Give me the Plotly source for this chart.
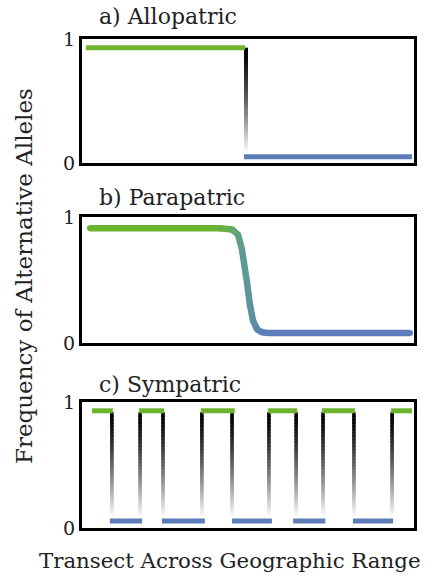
import numpy as np
import plotly.graph_objects as go
from plotly.colors import sample_colorscale

# Position along the transect, in percent of the range (0 = one end, 100 = the other)
# a) Allopatric: two fixed populations with an abrupt break
allo_green_x = [1.2, 49.1]
allo_blue_x = [48.8, 99.4]
allo_boundary = 49.4
allo_high = 0.93
allo_low = 0.05

# b) Parapatric: a steep but continuous cline
para_x = [2.4, 41.6, 45.2, 47.0, 48.2, 49.7, 50.6, 51.5, 52.7, 54.2, 56.0, 98.8]
para_y = [0.91, 0.91, 0.90, 0.86, 0.74, 0.48, 0.30, 0.18, 0.11, 0.085, 0.08, 0.08]

# c) Sympatric: interleaved patches of the two forms
sym_green_start = [3.0, 17.2, 35.8, 56.0, 72.3, 93.1]
sym_green_end = [9.3, 24.7, 46.0, 64.8, 82.2, 99.4]
sym_blue_start = [8.4, 24.1, 45.2, 63.6, 81.6]
sym_blue_end = [18.1, 37.0, 57.2, 73.3, 93.7]
sym_boundaries = [9.0, 17.5, 24.4, 36.1, 45.2, 56.3, 64.5, 72.6, 81.9, 93.4]
sym_high = 0.93
sym_low = 0.055

GREEN = "rgb(108,180,46)"
TEAL = "rgb(92,156,146)"
BLUE = "rgb(92,124,186)"
FONT = "DejaVu Serif"
INK = "#222"

fig = go.Figure()


def fade_line(x, y_top, y_bot, xa, ya, width=3.5, steps=32):
    """Vertical stroke shading from black at the top to white at the bottom."""
    ys = np.linspace(y_top, y_bot, steps + 1)
    step = (y_top - y_bot) / steps
    for i in range(steps):
        t = (i + 0.5) / steps
        g = int(round(255 * t ** 1.35))
        # each piece runs a little into the next so no seams show between them
        y_end = ys[i + 1] - (0.6 * step if i < steps - 1 else 0.0)
        fig.add_trace(go.Scatter(
            x=[x, x], y=[ys[i], y_end], mode="lines",
            line=dict(color=f"rgb({g},{g},{g})", width=width),
            xaxis=xa, yaxis=ya, hoverinfo="skip", showlegend=False))


def flat(x0, x1, level, color, xa, ya, width=5):
    fig.add_trace(go.Scatter(
        x=[x0, x1], y=[level, level], mode="lines",
        line=dict(color=color, width=width),
        xaxis=xa, yaxis=ya, hoverinfo="skip", showlegend=False))


# --- a) Allopatric ---
fade_line(allo_boundary, allo_high, allo_low + 0.03, "x", "y", width=4)
flat(allo_green_x[0], allo_green_x[1], allo_high, GREEN, "x", "y")
flat(allo_blue_x[0], allo_blue_x[1], allo_low, BLUE, "x", "y")

# --- b) Parapatric: cline coloured from green through teal to blue ---
scale = [[0.0, GREEN], [0.5, TEAL], [1.0, BLUE]]
bend_start, bend_end = para_x[1], para_x[-2]
for i in range(len(para_x) - 1):
    xm = 0.5 * (para_x[i] + para_x[i + 1])
    t = min(max((xm - bend_start) / (bend_end - bend_start), 0.0), 1.0)
    col = sample_colorscale(scale, [t])[0]
    fig.add_trace(go.Scatter(
        x=para_x[i:i + 2], y=para_y[i:i + 2], mode="lines+markers",
        line=dict(color=col, width=6.5),
        marker=dict(color=col, size=6, line=dict(width=0)),
        xaxis="x2", yaxis="y2", hoverinfo="skip", showlegend=False))

# --- c) Sympatric ---
for b in sym_boundaries:
    fade_line(b, sym_high - 0.01, sym_low + 0.03, "x3", "y3", width=3.5)
for x0, x1 in zip(sym_green_start, sym_green_end):
    flat(x0, x1, sym_high, GREEN, "x3", "y3")
for x0, x1 in zip(sym_blue_start, sym_blue_end):
    flat(x0, x1, sym_low, BLUE, "x3", "y3")

# --- axes: each panel framed by a heavy black box ---
xbase = dict(range=[0, 100], showticklabels=False, showgrid=False, zeroline=False,
             showline=True, mirror=True, linecolor="black", linewidth=3, ticks="")
ybase = dict(range=[0, 1], tickvals=[0, 1], ticktext=["0", "1"], showgrid=False,
             zeroline=False, showline=True, mirror=True, linecolor="black",
             linewidth=3, ticks="", tickfont=dict(family=FONT, size=19, color=INK))

domains = {"a": [0.7464, 1.0], "b": [0.3783, 0.636], "c": [0.0, 0.2577]}

fig.update_layout(
    width=432, height=575,
    margin=dict(l=82, r=18, t=39, b=47),
    paper_bgcolor="white", plot_bgcolor="white",
    font=dict(family=FONT, color=INK),
    xaxis=dict(xbase, anchor="y", domain=[0, 1]),
    yaxis=dict(ybase, anchor="x", domain=domains["a"]),
    xaxis2=dict(xbase, anchor="y2", domain=[0, 1]),
    yaxis2=dict(ybase, anchor="x2", domain=domains["b"]),
    xaxis3=dict(xbase, anchor="y3", domain=[0, 1]),
    yaxis3=dict(ybase, anchor="x3", domain=domains["c"]),
    showlegend=False,
)

panel_titles = [("a) Allopatric", 1.045), ("b) Parapatric", 0.676), ("c) Sympatric", 0.294)]
for text, ypos in panel_titles:
    fig.add_annotation(text=text, x=0.045, y=ypos, xref="paper", yref="paper",
                       xanchor="left", yanchor="middle", showarrow=False,
                       font=dict(family=FONT, size=22, color=INK))

fig.add_annotation(text="Frequency of Alternative Alleles", x=-0.175, y=0.515,
                   xref="paper", yref="paper", textangle=-90, showarrow=False,
                   xanchor="center", yanchor="middle",
                   font=dict(family=FONT, size=23, color=INK))
fig.add_annotation(text="Transect Across Geographic Range", x=0.446, y=-0.066,
                   xref="paper", yref="paper", showarrow=False,
                   xanchor="center", yanchor="middle",
                   font=dict(family=FONT, size=21.3, color=INK))

fig.write_html("out.html")
